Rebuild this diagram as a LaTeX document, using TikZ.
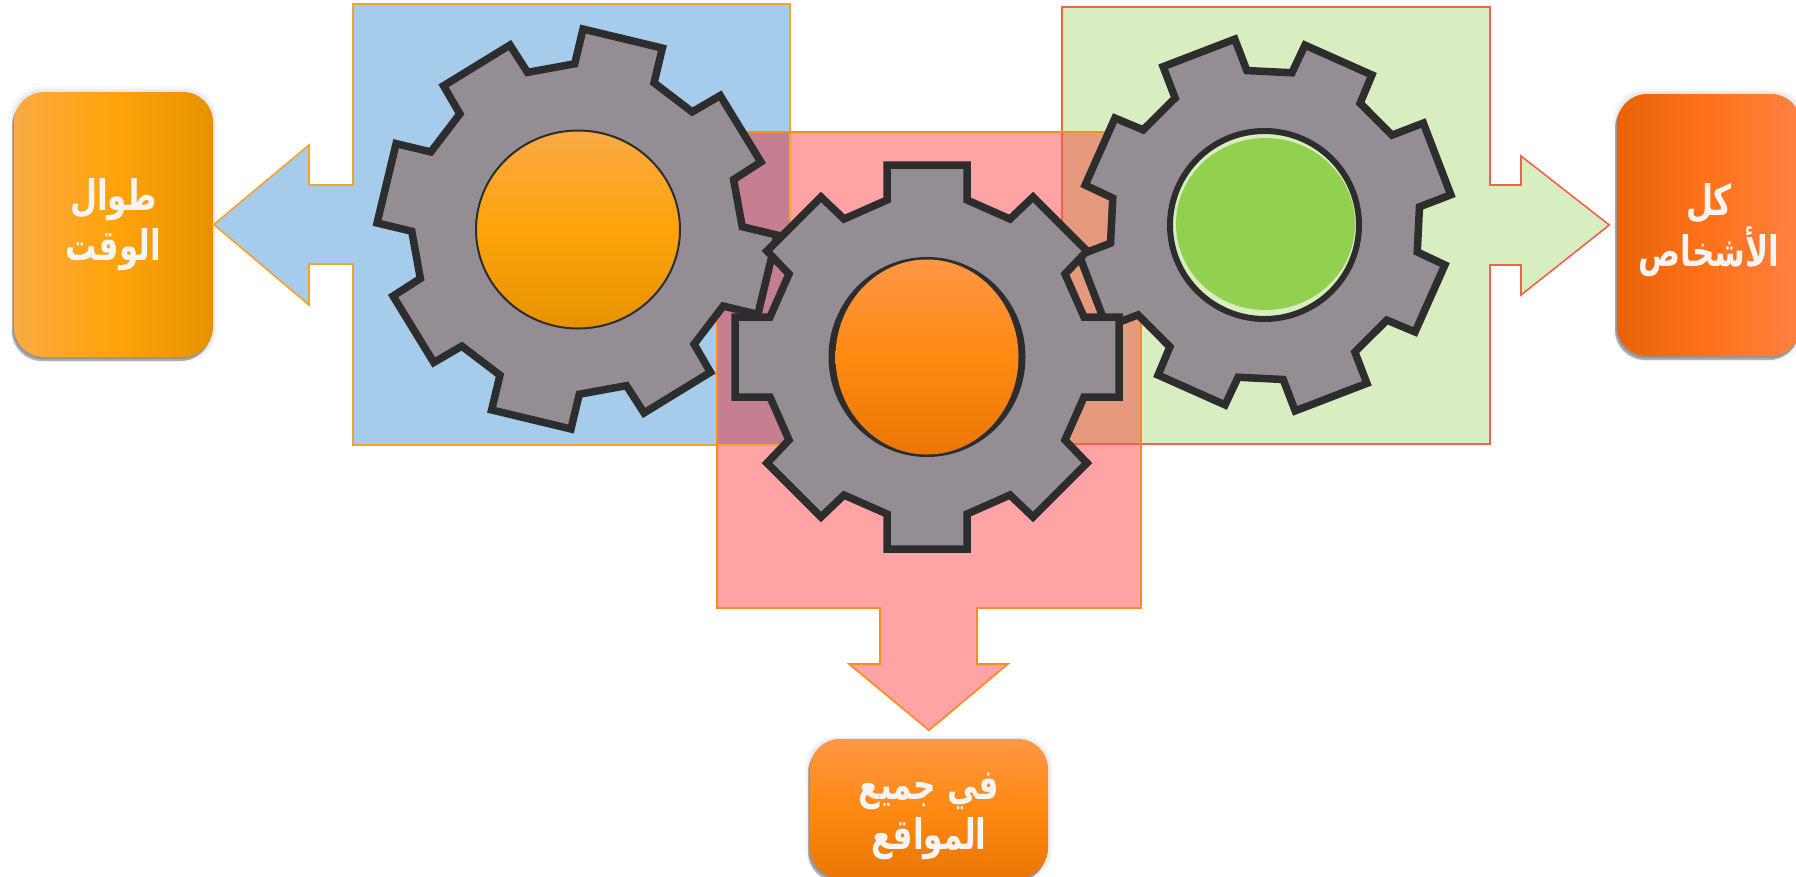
\documentclass[tikz,border=0pt]{standalone}
\usepackage{fontspec}
\usetikzlibrary{shadows,shapes.geometric}
\newfontfamily\arabicfont[Script=Arabic,FakeStretch=.74]{DejaVu Sans}
\TeXXeTstate=1
\definecolor{calloutblue}{HTML}{A5CCEA}
\definecolor{calloutred}{HTML}{FFA3A5}
\definecolor{calloutgreen}{HTML}{D8EDC0}
\definecolor{mixblue}{HTML}{C67F90}
\definecolor{mixgreen}{HTML}{E59A7E}
\definecolor{lineamber}{HTML}{F5A42A}
\definecolor{lineorange}{HTML}{FF8A1E}
\definecolor{linered}{HTML}{F0624A}
\definecolor{cogfill}{HTML}{948E94}
\definecolor{cogline}{HTML}{2D2D2D}
\definecolor{amberA}{HTML}{F9AA45}
\definecolor{amberB}{HTML}{FFA30A}
\definecolor{amberC}{HTML}{E69200}
\definecolor{orangeA}{HTML}{FF9644}
\definecolor{orangeB}{HTML}{FF8A12}
\definecolor{orangeC}{HTML}{EA7605}
\definecolor{flameA}{HTML}{E86308}
\definecolor{flameB}{HTML}{FF7219}
\definecolor{flameC}{HTML}{FF8142}
\definecolor{hubgreen}{HTML}{92D14F}
\tikzset{
  panel/.style={rounded corners=3mm,inner sep=0pt,align=center,text=white!96!black,
    font=\arabicfont\bfseries\fontsize{12}{14.4}\selectfont,
    general shadow={fill=black,opacity=.03,shadow scale=1.04},
    general shadow={fill=black,opacity=.05,shadow scale=1.02},
    general shadow={fill=black,opacity=.12,shadow xshift=-.1mm,shadow yshift=-.2mm},
    general shadow={fill=black,opacity=.28,shadow xshift=-.2mm,shadow yshift=-.4mm}},
  callout/.style={line width=.16mm,line join=miter},
  hub/.style={ellipse,inner sep=0pt,draw=cogline},
  cog/.pic={
    \path[fill=cogfill,draw=cogline,line width=.75mm,line join=miter]
      (-40,-192) -- (40,-192) -- (40,-157) -- (83,-138) -- (106,-160) -- (160,-106) -- (138,-83) -- (157,-40)
      -- (192,-40) -- (192,40) -- (157,40) -- (138,83) -- (160,106) -- (106,160) -- (83,138) -- (40,157)
      -- (40,192) -- (-40,192) -- (-40,157) -- (-83,138) -- (-106,160) -- (-160,106) -- (-138,83) -- (-157,40)
      -- (-192,40) -- (-192,-40) -- (-157,-40) -- (-138,-83) -- (-160,-106) -- (-106,-160) -- (-83,-138) -- (-40,-157)
      -- cycle;
  }
}
\begin{document}
\begin{tikzpicture}[x=.1mm,y=-.1mm]
  \useasboundingbox[clip] (0,0) rectangle (1796,876);
  % the three boxes
  \node[panel,minimum width=19.9mm,minimum height=26.5mm,left color=amberA,right color=amberC,middle color=amberB] (box_l) at (113.5,224.5)
    {\beginR طوال\endR\\\beginR الوقت\endR};
  \node[panel,minimum width=18.4mm,minimum height=26.2mm,left color=flameA,right color=flameC,middle color=flameB] (box_r) at (1709,225)
    {\rule{0pt}{4.2mm}\beginR كل\endR\\\beginR الأشخاص\endR};
  \node[panel,minimum width=23.8mm,minimum height=13.9mm,top color=orangeA,bottom color=orangeC,middle color=orangeB] (box_b) at (929,808.5)
    {\rule{0pt}{4.2mm}\beginR في جميع\endR\\\beginR المواقع\endR};
  % callouts
  \path[callout,fill=calloutblue] (box_l.east) -- (309,145) -- (309,185) -- (353,185) -- (353,4) -- (790,4)
    -- (790,445) -- (353,445) -- (353,264) -- (309,264) -- (309,305) -- cycle;
  \path[callout,fill=calloutgreen] ([xshift=-.7mm]box_r.west) -- (1521,295) -- (1521,265) -- (1490,265) -- (1490,444)
    -- (1062,444) -- (1062,7) -- (1490,7) -- (1490,185) -- (1521,185) -- (1521,156) -- cycle;
  \path[callout,fill=calloutred] ([yshift=.8mm]box_b.north) -- (849,664) -- (880,664) -- (880,608) -- (717,608)
    -- (717,132) -- (1141,132) -- (1141,608) -- (977,608) -- (977,664) -- (1008,664) -- cycle;
  \fill[mixblue] (717,132) rectangle (790,445);
  \fill[mixgreen] (1062,132) rectangle (1141,444);
  \draw[callout,draw=lineamber] (box_l.east) -- (309,145) -- (309,185) -- (353,185) -- (353,4) -- (790,4)
    -- (790,445) -- (353,445) -- (353,264) -- (309,264) -- (309,305) -- cycle;
  \draw[callout,draw=linered] ([xshift=-.7mm]box_r.west) -- (1521,295) -- (1521,265) -- (1490,265) -- (1490,444)
    -- (1062,444) -- (1062,7) -- (1490,7) -- (1490,185) -- (1521,185) -- (1521,156) -- cycle;
  \draw[callout,draw=lineorange] ([yshift=.8mm]box_b.north) -- (849,664) -- (880,664) -- (880,608) -- (717,608)
    -- (717,132) -- (1141,132) -- (1141,608) -- (977,608) -- (977,664) -- (1008,664) -- cycle;
  % gears
  \pic[rotate=-13.5,scale=1.02] at (577,229) {cog};
  \pic[rotate=21,scale=.96] at (1265,225) {cog};
  \pic at (927,357) {cog};
  \node[hub,minimum width=20.4mm,minimum height=19.8mm,line width=.2mm,top color=amberA,bottom color=amberC,middle color=amberB] (hub_l) at (578,229.5) {};
  \node[hub,minimum width=19.1mm,minimum height=19.4mm,line width=.6mm,fill=cogline] (hub_m) at (927,357) {};
  \shade[top color=orangeA,bottom color=orangeC,middle color=orangeB] (hub_m.center) ellipse [x radius=91.5,y radius=97.5];
  \node[hub,minimum width=18.9mm,minimum height=18.8mm,line width=.6mm,fill=calloutgreen] (hub_r) at (1264.5,225) {};
  \fill[hubgreen] ([shift={(.1mm,.1mm)}]hub_r.center) ellipse [x radius=89.5,y radius=86];
\end{tikzpicture}
\end{document}
